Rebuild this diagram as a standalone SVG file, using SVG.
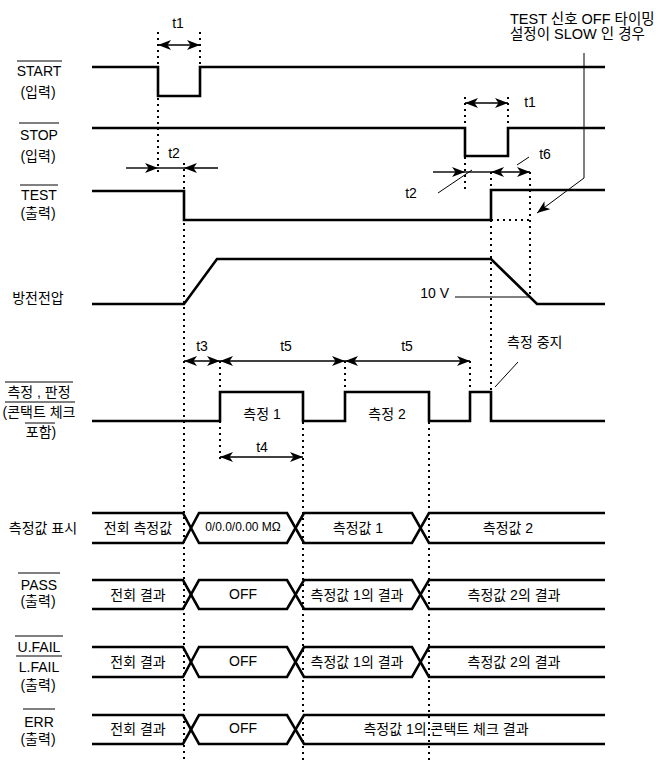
<svg xmlns="http://www.w3.org/2000/svg" width="661" height="764" viewBox="0 0 661 764">
<style>
.sig{fill:none;stroke:#000;stroke-width:2.6;stroke-linejoin:miter}
.dot{fill:none;stroke:#000;stroke-width:2;stroke-dasharray:2 4}
.thin{fill:none;stroke:#000;stroke-width:1}
.arr{fill:none;stroke:#000;stroke-width:1.4}
.ov{stroke:#000;stroke-width:1}
text{font-family:"Liberation Sans","Noto Sans CJK KR",sans-serif;font-size:14px;fill:#000}
.c{text-anchor:middle}
.e{text-anchor:end}
.sm{font-size:12px}
.big{font-size:14.5px}
</style>
<defs>
<marker id="ah" viewBox="0 0 13 10" refX="13" refY="5" markerWidth="13" markerHeight="10" markerUnits="userSpaceOnUse" orient="auto-start-reverse">
<path d="M0,0 L13,5 L0,10 L3.5,5 Z" fill="#000"/>
</marker>
</defs>
<rect width="661" height="764" fill="#fff"/>

<g id="labels">
<text class="c" x="39" y="76">START</text><line class="ov" x1="17" y1="61" x2="62" y2="61"/>
<text class="c" x="38" y="97">(입력)</text>
<text class="c" x="39" y="140">STOP</text><line class="ov" x1="19" y1="123" x2="59" y2="123"/>
<text class="c" x="38" y="161">(입력)</text>
<text class="c" x="39" y="200">TEST</text><line class="ov" x1="20" y1="185" x2="58" y2="185"/>
<text class="c" x="38" y="218">(출력)</text>
<text class="c" x="38" y="303">방전전압</text>
<text class="c" x="39" y="397">측정 , 판정</text><line class="ov" x1="5" y1="382" x2="73" y2="382"/>
<text class="c" x="39" y="417">(콘택트 체크</text><line class="ov" x1="5" y1="402" x2="75" y2="402"/>
<text class="c" x="41" y="437">포함)</text><line class="ov" x1="25" y1="423" x2="55" y2="423"/>
<text class="c" x="43" y="533">측정값 표시</text>
<text class="c" x="39" y="590">PASS</text><line class="ov" x1="18" y1="573" x2="60" y2="573"/>
<text class="c" x="38" y="606">(출력)</text>
<text class="c" x="39" y="652">U.FAIL</text><line class="ov" x1="15" y1="636" x2="63" y2="636"/>
<text class="c" x="39" y="672">L.FAIL</text><line class="ov" x1="16" y1="656" x2="62" y2="656"/>
<text class="c" x="38" y="690">(출력)</text>
<text class="c" x="39" y="727">ERR</text><line class="ov" x1="23" y1="709" x2="55" y2="709"/>
<text class="c" x="38" y="744">(출력)</text>
</g>

<g id="sig-start"><path class="sig" d="M92,67 H158 V96 H200 V67 H605"/></g>
<g id="sig-stop"><path class="sig" d="M92,128 H465 V156 H508 V128 H605"/></g>
<g id="sig-test"><path class="sig" d="M92,191 H184 V220 H491 V190 H605"/></g>
<g id="sig-voltage"><path class="sig" d="M92,304 H184 L217,259 H491 L537,304 H605"/></g>
<g id="sig-measure"><path class="sig" d="M92,421 H220 V392 H303 V421 H345 V392 H429 V421 H470 V392 H491 V421 H605"/>
<text class="c" x="262" y="419">측정 1</text>
<text class="c" x="387" y="419">측정 2</text>
</g>
<g id="bus-display">
<path class="sig" d="M92,513 H183 L199,543 H287 L304,513 H412 L429,543 H605"/>
<path class="sig" d="M92,543 H183 L199,513 H287 L304,543 H412 L429,513 H605"/>
<text class="c" x="138" y="533">전회 측정값</text>
<text class="c sm" x="243" y="531">0/0.0/0.00 MΩ</text>
<text class="c" x="358" y="533">측정값 1</text>
<text class="c" x="508" y="533">측정값 2</text>
</g>
<g id="bus-pass">
<path class="sig" d="M92,580 H183 L199,609 H287 L304,580 H412 L429,609 H605"/>
<path class="sig" d="M92,609 H183 L199,580 H287 L304,609 H412 L429,580 H605"/>
<text class="c" x="138" y="600">전회 결과</text>
<text class="c" x="243" y="599">OFF</text>
<text class="c" x="357" y="600">측정값 1의 결과</text>
<text class="c" x="514" y="600">측정값 2의 결과</text>
</g>
<g id="bus-fail">
<path class="sig" d="M92,647 H183 L199,677 H287 L304,647 H412 L429,677 H605"/>
<path class="sig" d="M92,677 H183 L199,647 H287 L304,677 H412 L429,647 H605"/>
<text class="c" x="138" y="667">전회 결과</text>
<text class="c" x="243" y="666">OFF</text>
<text class="c" x="357" y="667">측정값 1의 결과</text>
<text class="c" x="514" y="667">측정값 2의 결과</text>
</g>
<g id="bus-err">
<path class="sig" d="M92,715 H183 L199,744 H287 L304,715 H605"/>
<path class="sig" d="M92,744 H183 L199,715 H287 L304,744 H605"/>
<text class="c" x="138" y="734">전회 결과</text>
<text class="c" x="243" y="733">OFF</text>
<text class="c" x="446" y="734">측정값 1의 콘택트 체크 결과</text>
</g>

<g id="guides">
<path class="dot" d="M158,32 V175 M200,32 V67 M184,163 V762 M465,97 V190 M508,97 V128 M491,172 V392 M530,172 V296 M491,220 H530 M220,361 V462 M345,361 V392 M470,361 V392 M303,422 V762 M429,422 V762"/>
</g>

<g id="connectors">
<path class="arr" d="M158,45 H200" marker-start="url(#ah)" marker-end="url(#ah)"/>
<path class="arr" d="M126,168 H158" marker-end="url(#ah)"/>
<path class="arr" d="M218,168 H184" marker-end="url(#ah)"/>
<path class="arr" d="M158,168 H184"/>
<path class="arr" d="M465,103 H508" marker-start="url(#ah)" marker-end="url(#ah)"/>
<path class="arr" d="M433,172 H465" marker-end="url(#ah)"/>
<path class="arr" d="M465,172 H491"/>
<path class="arr" d="M491,172 H530" marker-start="url(#ah)" marker-end="url(#ah)"/>
<path class="arr" d="M184,361 H220" marker-start="url(#ah)" marker-end="url(#ah)"/>
<path class="arr" d="M220,361 H345" marker-start="url(#ah)" marker-end="url(#ah)"/>
<path class="arr" d="M345,361 H470" marker-start="url(#ah)" marker-end="url(#ah)"/>
<path class="arr" d="M220,457 H303" marker-start="url(#ah)" marker-end="url(#ah)"/>
<path class="thin" d="M438,193 L472,170"/>
<path class="thin" d="M517,165 L529,157"/>
<path class="thin" d="M455,297 H530"/>
<path class="thin" d="M495,387 L518,362"/>
<path class="thin" d="M584,53 V178 L537,213" marker-end="url(#ah)"/>
</g>

<g id="annotations">
<text class="c" x="178" y="28">t1</text>
<text class="c" x="174" y="158">t2</text>
<text class="c" x="530" y="107">t1</text>
<text class="c" x="411" y="198">t2</text>
<text class="c" x="545" y="159">t6</text>
<text class="c" x="202" y="351">t3</text>
<text class="c" x="286" y="351">t5</text>
<text class="c" x="407" y="351">t5</text>
<text class="c" x="262" y="452">t4</text>
<text class="e" x="449" y="298">10 V</text>
<text x="507" y="347">측정 중지</text>
<text class="big" x="510" y="24">TEST 신호 OFF 타이밍</text>
<text class="big" x="510" y="39">설정이 SLOW 인 경우</text>
</g>
</svg>
